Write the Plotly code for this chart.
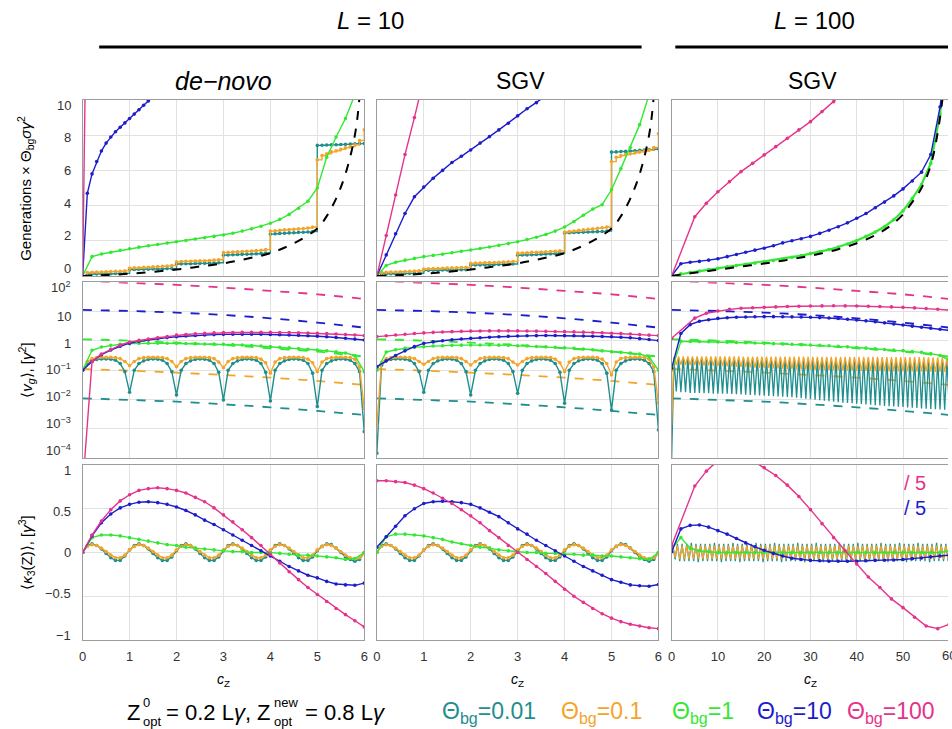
import numpy as np
import plotly.graph_objects as go

FONT = "Liberation Sans, Arial, sans-serif"
W, H = 952, 729

TEAL = "#1f8e8e"
ORANGE = "#f3a52a"
GREEN = "#33e833"
BLUE = "#1d1dcc"
PINK = "#e5338b"

# ---------------- sampling grids (c_Z) ----------------
C_Z_FINE = np.round(np.linspace(0, 6, 61), 2).tolist()      # step 0.1
C_Z = np.round(np.linspace(0, 6, 31), 2).tolist()           # step 0.2
C_Z_L100 = np.linspace(0, 60, 31).tolist()                  # step 2
C_Z_PINK_L100 = [0.0] + np.arange(5, 60.01, 2.5).tolist()
C_Z_DASH = [0, 1, 2, 3, 4, 5, 6]
C_Z_DASH_L100 = [0, 10, 20, 30, 40, 50, 60]
C_Z_BLACK = [0, 0.5, 1, 1.5, 2, 2.5, 3, 3.5, 4, 4.5, 5, 5.2, 5.4, 5.6, 5.8, 5.9, 6.0]

# ---------------- row 1: generations x Theta_bg sigma gamma^2 ----------------
R1C1_PINK = [0, 20, 35]
R1C1_BLUE = [0, 4.7, 5.8, 6.5, 7.1, 7.55, 7.9, 8.2, 8.45, 8.7, 8.95, 9.2, 9.45, 9.7, 9.95, 10.2, 10.45]
R1C1_GREEN = [0, 1.1, 1.25, 1.35, 1.46, 1.55, 1.64, 1.72, 1.79, 1.87, 1.95, 2.02, 2.1, 2.17, 2.25,
              2.33, 2.43, 2.55, 2.68, 2.83, 3.0, 3.22, 3.5, 3.85, 4.25, 5.0, 6.75, 7.9, 8.95, 10.3, 12.0]
R1C1_ORANGE = [0.0,
               0.20, 0.21, 0.22, 0.23, 0.24, 0.25, 0.26, 0.27, 0.29,
               0.44, 0.46, 0.47, 0.49, 0.50, 0.52, 0.53, 0.55, 0.57, 0.59,
               0.80, 0.82, 0.83, 0.84, 0.85, 0.86, 0.87, 0.88, 0.90, 0.92,
               1.33, 1.34, 1.36, 1.37, 1.39, 1.40, 1.42, 1.44, 1.46, 1.50,
               2.55, 2.57, 2.60, 2.62, 2.64, 2.66, 2.68, 2.70, 2.73, 2.78,
               6.60, 6.85, 6.95, 7.05, 7.12, 7.20, 7.28, 7.35, 7.45, 7.70, 8.30]
R1C1_TEAL = [0.0,
             0.10, 0.11, 0.12, 0.12, 0.13, 0.13, 0.14, 0.14, 0.15,
             0.36, 0.37, 0.38, 0.38, 0.39, 0.40, 0.40, 0.41, 0.42, 0.42,
             0.68, 0.69, 0.70, 0.70, 0.71, 0.72, 0.72, 0.73, 0.74, 0.75,
             1.18, 1.20, 1.21, 1.22, 1.23, 1.24, 1.25, 1.26, 1.28, 1.30,
             2.38, 2.40, 2.42, 2.43, 2.45, 2.46, 2.48, 2.49, 2.50, 2.52,
             7.42, 7.43, 7.44, 7.45, 7.46, 7.47, 7.48, 7.50, 7.51, 7.52, 7.53]
R1_BLACK = [0, 0.05, 0.13, 0.24, 0.37, 0.54, 0.72, 0.98, 1.3, 1.86, 2.7, 3.4, 4.4, 5.8, 8.0, 10.2, 14.0]

R1C2_PINK = [0, 2.3, 4.6, 6.9, 9.0, 11.2]
R1C2_BLUE = [0, 1.2, 2.4, 3.55, 4.5, 5.05, 5.55, 6.0, 6.45, 6.8, 7.16, 7.55, 7.92, 8.3, 8.68, 9.1,
             9.5, 9.85, 10.2, 10.6]
R1C2_GREEN = [0, 0.6, 0.78, 0.9, 1.0, 1.1, 1.17, 1.24, 1.32, 1.4, 1.48, 1.56, 1.65, 1.74, 1.84, 1.95,
              2.07, 2.2, 2.36, 2.55, 2.78, 3.1, 3.45, 3.8, 4.05, 4.9, 6.1, 7.3, 8.6, 10.3, 12.0]
R1C2_ORANGE = [0.0,
               0.20, 0.21, 0.22, 0.23, 0.24, 0.25, 0.26, 0.28, 0.30,
               0.40, 0.41, 0.42, 0.43, 0.44, 0.45, 0.46, 0.47, 0.48, 0.49,
               0.72, 0.73, 0.74, 0.75, 0.76, 0.77, 0.78, 0.79, 0.80, 0.82,
               1.30, 1.31, 1.32, 1.34, 1.35, 1.36, 1.38, 1.39, 1.40, 1.43,
               2.50, 2.53, 2.56, 2.59, 2.62, 2.65, 2.68, 2.71, 2.74, 2.78,
               6.50, 6.75, 6.85, 6.90, 6.95, 7.00, 7.05, 7.10, 7.15, 7.30, 8.10]
R1C2_TEAL = [0.0,
             0.12, 0.12, 0.13, 0.13, 0.14, 0.14, 0.15, 0.15, 0.16,
             0.32, 0.32, 0.33, 0.33, 0.34, 0.34, 0.35, 0.35, 0.36, 0.36,
             0.62, 0.63, 0.63, 0.64, 0.65, 0.65, 0.66, 0.67, 0.67, 0.68,
             1.18, 1.19, 1.20, 1.21, 1.22, 1.24, 1.25, 1.26, 1.28, 1.30,
             2.45, 2.46, 2.47, 2.48, 2.49, 2.50, 2.51, 2.52, 2.53, 2.55,
             7.04, 7.05, 7.07, 7.08, 7.10, 7.12, 7.14, 7.16, 7.18, 7.20, 7.22]

R1C3_PINK = [0, 3.37, 4.13, 4.79, 5.36, 5.93, 6.4, 6.88, 7.35, 7.82, 8.3, 8.77, 9.34, 9.9, 10.5]
R1C3_BLUE = [0, 0.7, 0.78, 0.83, 0.9, 0.98, 1.1, 1.22, 1.35, 1.47, 1.58, 1.72, 1.88, 2.0, 2.12, 2.25,
             2.42, 2.6, 2.8, 3.02, 3.28, 3.55, 3.88, 4.2, 4.55, 4.95, 5.4, 5.9, 6.9, 9.6, 14.0]
R1C3_GREEN = [0, 0.12, 0.2, 0.28, 0.36, 0.44, 0.52, 0.59, 0.66, 0.73, 0.8, 0.88, 0.97, 1.06, 1.16, 1.27,
              1.38, 1.5, 1.65, 1.82, 2.02, 2.25, 2.5, 2.8, 3.2, 3.7, 4.4, 5.2, 6.4, 9.2, 14.0]
R1C3_BLACK = [0, 0.08, 0.15, 0.22, 0.29, 0.36, 0.43, 0.5, 0.57, 0.64, 0.71, 0.79, 0.87, 0.96, 1.05, 1.15,
              1.26, 1.38, 1.52, 1.68, 1.86, 2.07, 2.32, 2.62, 3.0, 3.5, 4.2, 5.0, 6.3, 9.0, 14.0]

# ---------------- row 2: <v_g> (log) ----------------
DASH_TEAL = [0.0111, 0.00975, 0.00855, 0.00693, 0.00548, 0.00411, 0.0030]
DASH_ORANGE = [0.111, 0.0975, 0.083, 0.0693, 0.0562, 0.0433, 0.0316]
DASH_GREEN = [1.14, 1.03, 0.877, 0.731, 0.562, 0.433, 0.292]
DASH_BLUE = [11.4, 10.5, 9.25, 7.69, 5.93, 4.22, 2.85]
DASH_PINK = [114, 96, 82, 66, 51, 39, 27]

R2C1_PINK = [1e-5, 0.2, 0.36, 0.52, 0.72, 0.92, 1.05, 1.17, 1.29, 1.41, 1.58, 1.67, 1.75, 1.82, 1.88,
             1.92, 1.95, 1.97, 1.98, 1.98, 1.97, 1.95, 1.93, 1.9, 1.86, 1.82, 1.78, 1.73, 1.67, 1.6, 1.52]
R2C1_BLUE = [0.1, 0.2, 0.34, 0.49, 0.66, 0.84, 0.97, 1.09, 1.2, 1.3, 1.39, 1.47, 1.54, 1.6, 1.65, 1.68,
             1.7, 1.7, 1.7, 1.69, 1.67, 1.64, 1.6, 1.56, 1.51, 1.45, 1.39, 1.32, 1.24, 1.16, 1.08]
R2C1_GREEN = [0.1, 0.48, 0.62, 0.71, 0.77, 0.81, 0.83, 0.84, 0.84, 0.84, 0.83, 0.82, 0.81, 0.79, 0.78,
              0.77, 0.75, 0.73, 0.7, 0.67, 0.64, 0.61, 0.58, 0.55, 0.52, 0.49, 0.46, 0.43, 0.39, 0.32, 0.09]
R2C1_ORANGE = [0.1,
               0.20, 0.25, 0.27, 0.277, 0.28, 0.277, 0.27, 0.25, 0.20,
               0.144, 0.20, 0.25, 0.27, 0.277, 0.28, 0.277, 0.27, 0.25, 0.20,
               0.133, 0.20, 0.25, 0.27, 0.277, 0.28, 0.277, 0.27, 0.25, 0.19,
               0.123, 0.20, 0.25, 0.27, 0.277, 0.28, 0.277, 0.27, 0.24, 0.18,
               0.079, 0.19, 0.25, 0.27, 0.277, 0.28, 0.277, 0.27, 0.24, 0.18,
               0.09, 0.19, 0.25, 0.27, 0.277, 0.28, 0.277, 0.27, 0.24, 0.13, 0.0051]
R2C1_TEAL = [0.1,
             0.17, 0.21, 0.235, 0.243, 0.243, 0.24, 0.22, 0.17, 0.09,
             0.0178, 0.10, 0.17, 0.21, 0.235, 0.243, 0.24, 0.22, 0.17, 0.09,
             0.0144, 0.10, 0.17, 0.21, 0.235, 0.243, 0.24, 0.22, 0.17, 0.085,
             0.0097, 0.10, 0.17, 0.21, 0.235, 0.243, 0.24, 0.22, 0.17, 0.085,
             0.009, 0.10, 0.17, 0.21, 0.235, 0.243, 0.24, 0.22, 0.17, 0.08,
             0.0058, 0.10, 0.17, 0.21, 0.235, 0.243, 0.24, 0.22, 0.17, 0.09, 0.00081]

R2C2_PINK = [1.41, 1.5, 1.6, 1.7, 1.8, 1.88, 1.96, 2.02, 2.08, 2.13, 2.17, 2.19, 2.2, 2.21, 2.21, 2.2,
             2.18, 2.16, 2.13, 2.11, 2.08, 2.04, 2.0, 1.95, 1.9, 1.84, 1.78, 1.72, 1.65, 1.58, 1.52]
R2C2_BLUE = [0.133, 0.21, 0.32, 0.46, 0.64, 0.83, 0.93, 1.02, 1.1, 1.17, 1.23, 1.29, 1.34, 1.39, 1.44,
             1.48, 1.5, 1.52, 1.53, 1.53, 1.52, 1.5, 1.48, 1.45, 1.42, 1.39, 1.34, 1.28, 1.2, 1.12, 1.03]
R2C2_GREEN = [0.1, 0.42, 0.5, 0.56, 0.61, 0.64, 0.67, 0.69, 0.71, 0.72, 0.73, 0.73, 0.73, 0.72, 0.71,
              0.69, 0.67, 0.65, 0.63, 0.61, 0.59, 0.56, 0.53, 0.5, 0.46, 0.43, 0.41, 0.39, 0.36, 0.29, 0.1]
R2C2_ORANGE = [0.00137,
               0.18, 0.25, 0.27, 0.277, 0.28, 0.277, 0.27, 0.25, 0.20,
               0.16, 0.20, 0.25, 0.27, 0.277, 0.28, 0.277, 0.27, 0.25, 0.20,
               0.152, 0.20, 0.25, 0.27, 0.277, 0.28, 0.277, 0.27, 0.25, 0.19,
               0.152, 0.20, 0.25, 0.27, 0.277, 0.28, 0.277, 0.27, 0.24, 0.18,
               0.09, 0.19, 0.25, 0.27, 0.277, 0.28, 0.277, 0.27, 0.24, 0.17,
               0.069, 0.19, 0.25, 0.27, 0.277, 0.28, 0.277, 0.27, 0.24, 0.13, 0.0075]
R2C2_TEAL = [0.00015,
             0.15, 0.21, 0.235, 0.243, 0.243, 0.24, 0.22, 0.17, 0.09,
             0.0178, 0.10, 0.17, 0.21, 0.235, 0.243, 0.24, 0.22, 0.17, 0.09,
             0.0144, 0.10, 0.17, 0.21, 0.235, 0.243, 0.24, 0.22, 0.17, 0.09,
             0.0164, 0.10, 0.17, 0.21, 0.235, 0.243, 0.24, 0.22, 0.17, 0.085,
             0.0075, 0.10, 0.17, 0.21, 0.235, 0.243, 0.24, 0.22, 0.17, 0.08,
             0.0044, 0.10, 0.17, 0.21, 0.235, 0.243, 0.24, 0.22, 0.17, 0.09, 0.00092]

R2C3_PINK = [1.23, 6.0, 8.8, 10.5, 11.9, 13.0, 13.6, 14.0, 14.5, 14.9, 15.3, 15.6, 15.7, 15.8, 15.7,
             15.6, 15.3, 15.0, 14.5, 14.0, 13.4, 12.7, 12.0, 11.3]
R2C3_BLUE = [0.118, 1.8, 3.6, 4.7, 5.3, 5.9, 6.2, 6.4, 6.6, 6.7, 6.75, 6.75, 6.7, 6.65, 6.55, 6.4,
             6.25, 6.05, 5.8, 5.5, 5.2, 4.85, 4.5, 4.15, 3.8, 3.5, 3.2, 2.95, 2.7, 2.5, 2.3]
R2C3_GREEN = [0.1, 0.97, 0.96, 0.95, 0.94, 0.93, 0.91, 0.89, 0.87, 0.85, 0.83, 0.81, 0.79, 0.77, 0.75,
              0.73, 0.71, 0.69, 0.66, 0.63, 0.6, 0.57, 0.54, 0.51, 0.49, 0.47, 0.44, 0.41, 0.37, 0.32, 0.22]
# L = 100: one maximum (c_Z = k + 0.5) and one minimum (c_Z = k + 1) per locus
R2C3_TEAL_START = 1e-4
R2C3_TEAL_PEAK = [0.25, 0.26, 0.26, 0.26, 0.26, 0.26, 0.26, 0.26, 0.26, 0.26,
                  0.26, 0.26, 0.26, 0.26, 0.26, 0.26, 0.255, 0.255, 0.255, 0.255,
                  0.255, 0.255, 0.255, 0.255, 0.25, 0.25, 0.25, 0.25, 0.25, 0.25,
                  0.25, 0.25, 0.25, 0.25, 0.25, 0.25, 0.245, 0.245, 0.245, 0.245,
                  0.245, 0.245, 0.245, 0.245, 0.245, 0.24, 0.24, 0.24, 0.24, 0.24,
                  0.24, 0.24, 0.24, 0.235, 0.235, 0.235, 0.235, 0.235, 0.235, 0.235]
R2C3_TEAL_DIP = [0.019, 0.018, 0.018, 0.017, 0.017, 0.017, 0.0165, 0.0165, 0.016, 0.016,
                 0.016, 0.0158, 0.0155, 0.0152, 0.015, 0.0148, 0.0145, 0.0142, 0.014, 0.0137,
                 0.0134, 0.0131, 0.0128, 0.0126, 0.0123, 0.012, 0.0116, 0.0112, 0.0108, 0.0104,
                 0.01, 0.0096, 0.0092, 0.0088, 0.0085, 0.0082, 0.0079, 0.0077, 0.0075, 0.0073,
                 0.0071, 0.0069, 0.0067, 0.0065, 0.0063, 0.0061, 0.006, 0.0058, 0.0057, 0.0056,
                 0.0054, 0.0053, 0.0052, 0.005, 0.0049, 0.0048, 0.0047, 0.0046, 0.0045, 0.0044]
R2C3_ORANGE_START = 0.00137
R2C3_ORANGE_PEAK = [0.29, 0.3, 0.3, 0.3, 0.3, 0.3, 0.3, 0.3, 0.3, 0.3,
                    0.3, 0.3, 0.3, 0.3, 0.3, 0.295, 0.295, 0.295, 0.295, 0.295,
                    0.295, 0.295, 0.295, 0.295, 0.295, 0.29, 0.29, 0.29, 0.29, 0.29,
                    0.29, 0.29, 0.29, 0.29, 0.29, 0.285, 0.285, 0.285, 0.285, 0.285,
                    0.285, 0.285, 0.285, 0.285, 0.285, 0.28, 0.28, 0.28, 0.28, 0.28,
                    0.28, 0.28, 0.28, 0.28, 0.28, 0.275, 0.275, 0.275, 0.275, 0.275]
R2C3_ORANGE_DIP = [0.155, 0.155, 0.152, 0.152, 0.15, 0.148, 0.146, 0.144, 0.142, 0.14,
                   0.138, 0.136, 0.134, 0.132, 0.13, 0.128, 0.126, 0.124, 0.122, 0.12,
                   0.118, 0.116, 0.114, 0.112, 0.11, 0.109, 0.108, 0.107, 0.106, 0.105,
                   0.104, 0.103, 0.102, 0.101, 0.1, 0.099, 0.098, 0.097, 0.096, 0.096,
                   0.095, 0.095, 0.094, 0.094, 0.093, 0.093, 0.092, 0.092, 0.092, 0.091,
                   0.091, 0.091, 0.09, 0.09, 0.09, 0.09, 0.089, 0.089, 0.089, 0.088]

# ---------------- row 3: <kappa_3(Z)> ----------------
R3C1_PINK = [0, 0.2, 0.36, 0.49, 0.59, 0.66, 0.71, 0.73, 0.74, 0.73, 0.71, 0.68, 0.63, 0.58, 0.51,
             0.43, 0.35, 0.26, 0.17, 0.08, -0.02, -0.12, -0.22, -0.31, -0.4, -0.48, -0.56, -0.64,
             -0.71, -0.78, -0.85]
R3C1_BLUE = [0, 0.19, 0.34, 0.44, 0.51, 0.55, 0.575, 0.58, 0.57, 0.55, 0.52, 0.48, 0.43, 0.37, 0.32,
             0.26, 0.2, 0.14, 0.08, 0.02, -0.04, -0.1, -0.16, -0.21, -0.26, -0.29, -0.33, -0.36,
             -0.37, -0.375, -0.35]
R3C1_GREEN = [0, 0.17, 0.2, 0.2, 0.19, 0.17, 0.15, 0.13, 0.11, 0.09, 0.08, 0.06, 0.05, 0.04, 0.03,
              0.02, 0.01, 0.01, 0.0, 0.0, 0.0, -0.01, -0.02, -0.03, -0.03, -0.04, -0.05, -0.06,
              -0.08, -0.07, 0.0]
R3_TEAL = [0.0,
           0.08, 0.10, 0.08, 0.04, -0.01, -0.06, -0.09, -0.09, -0.04,
           0.03, 0.08, 0.10, 0.08, 0.04, -0.01, -0.06, -0.09, -0.09, -0.05,
           0.02, 0.08, 0.10, 0.08, 0.04, -0.01, -0.06, -0.09, -0.09, -0.05,
           0.02, 0.08, 0.10, 0.08, 0.04, -0.01, -0.06, -0.09, -0.09, -0.05,
           0.02, 0.08, 0.10, 0.08, 0.04, -0.01, -0.06, -0.09, -0.09, -0.05,
           0.02, 0.07, 0.10, 0.09, 0.05, 0.00, -0.05, -0.08, -0.10, -0.08, 0.0]
R3_ORANGE = [0.0,
             0.07, 0.09, 0.08, 0.05, 0.01, -0.03, -0.06, -0.06, -0.03,
             0.03, 0.07, 0.09, 0.08, 0.05, 0.01, -0.03, -0.06, -0.06, -0.03,
             0.03, 0.07, 0.09, 0.08, 0.05, 0.01, -0.03, -0.06, -0.06, -0.03,
             0.03, 0.07, 0.09, 0.08, 0.05, 0.01, -0.03, -0.06, -0.06, -0.03,
             0.03, 0.07, 0.09, 0.08, 0.05, 0.01, -0.03, -0.06, -0.06, -0.03,
             0.03, 0.07, 0.09, 0.08, 0.05, 0.01, -0.03, -0.06, -0.07, -0.06, -0.01]

R3C2_PINK = [0.82, 0.82, 0.81, 0.8, 0.77, 0.73, 0.68, 0.62, 0.56, 0.49, 0.42, 0.34, 0.25, 0.17, 0.08,
             0.0, -0.08, -0.16, -0.24, -0.33, -0.42, -0.5, -0.57, -0.64, -0.7, -0.75, -0.79, -0.82,
             -0.84, -0.86, -0.87]
R3C2_BLUE = [0.06, 0.18, 0.3, 0.42, 0.5, 0.56, 0.58, 0.585, 0.58, 0.57, 0.55, 0.51, 0.46, 0.41, 0.34,
             0.27, 0.21, 0.14, 0.08, 0.02, -0.04, -0.1, -0.16, -0.21, -0.26, -0.31, -0.34, -0.37,
             -0.38, -0.385, -0.365]
R3C2_GREEN = [0, 0.18, 0.21, 0.21, 0.2, 0.19, 0.17, 0.15, 0.12, 0.1, 0.08, 0.06, 0.05, 0.03, 0.02,
              0.01, 0.0, 0.0, -0.01, -0.01, -0.02, -0.02, -0.03, -0.03, -0.04, -0.04, -0.05, -0.06,
              -0.07, -0.08, 0.0]

R3C3_PINK = [0.08, 0.76, 0.93, 1.05, 1.12, 1.13, 1.05, 0.97, 0.88, 0.77, 0.64, 0.49, 0.33, 0.17, 0.02,
             -0.13, -0.28, -0.4, -0.53, -0.63, -0.74, -0.84, -0.87, -0.82]
R3C3_BLUE = [0.01, 0.27, 0.31, 0.315, 0.29, 0.25, 0.21, 0.16, 0.11, 0.065, 0.025, -0.01, -0.04, -0.065,
             -0.08, -0.09, -0.095, -0.1, -0.1, -0.1, -0.1, -0.095, -0.09, -0.088, -0.085, -0.08,
             -0.07, -0.062, -0.05, -0.04, -0.03]
R3C3_GREEN = [0.04, 0.17, 0.05, 0.02, 0.01, 0.0, 0.0, 0.0, 0.0, 0.0, 0.0, 0.0, 0.0, 0.0, 0.0, 0.0,
              0.0, 0.0, 0.0, 0.0, 0.0, 0.0, 0.0, 0.0, 0.0, 0.0, 0.0, 0.0, 0.0, 0.0, 0.02]
# L = 100: one maximum (c_Z = k + 0.25) and one minimum (c_Z = k + 0.75) per locus
R3C3_TEAL_PEAK = [0.09, 0.1, 0.1, 0.1, 0.11, 0.1, 0.1, 0.1, 0.1, 0.11,
                  0.1, 0.1, 0.1, 0.11, 0.1, 0.1, 0.1, 0.1, 0.11, 0.1,
                  0.1, 0.1, 0.11, 0.1, 0.1, 0.1, 0.1, 0.11, 0.1, 0.1,
                  0.1, 0.11, 0.1, 0.1, 0.1, 0.1, 0.11, 0.1, 0.1, 0.1,
                  0.11, 0.1, 0.1, 0.1, 0.1, 0.11, 0.1, 0.1, 0.1, 0.11,
                  0.1, 0.1, 0.1, 0.11, 0.1, 0.1, 0.1, 0.11, 0.1, 0.1]
R3C3_TEAL_TROUGH = [-0.08, -0.1, -0.1, -0.1, -0.1, -0.11, -0.1, -0.1, -0.1, -0.1,
                    -0.11, -0.1, -0.1, -0.1, -0.11, -0.1, -0.1, -0.1, -0.1, -0.11,
                    -0.1, -0.1, -0.1, -0.11, -0.1, -0.1, -0.1, -0.1, -0.11, -0.1,
                    -0.1, -0.1, -0.11, -0.1, -0.1, -0.1, -0.1, -0.11, -0.1, -0.1,
                    -0.1, -0.11, -0.1, -0.1, -0.1, -0.1, -0.11, -0.1, -0.1, -0.1,
                    -0.11, -0.1, -0.1, -0.1, -0.1, -0.11, -0.1, -0.1, -0.1, -0.1]
R3C3_ORANGE_PEAK = [0.07, 0.08, 0.08, 0.08, 0.08, 0.08, 0.08, 0.08, 0.08, 0.08,
                    0.08, 0.08, 0.08, 0.08, 0.08, 0.08, 0.08, 0.08, 0.08, 0.08,
                    0.08, 0.08, 0.08, 0.08, 0.08, 0.08, 0.08, 0.08, 0.08, 0.08,
                    0.08, 0.08, 0.08, 0.08, 0.08, 0.08, 0.08, 0.08, 0.08, 0.08,
                    0.08, 0.08, 0.08, 0.08, 0.08, 0.08, 0.08, 0.08, 0.08, 0.08,
                    0.08, 0.08, 0.08, 0.08, 0.08, 0.08, 0.08, 0.08, 0.08, 0.08]
R3C3_ORANGE_TROUGH = [-0.06, -0.075, -0.075, -0.075, -0.075, -0.075, -0.075, -0.075, -0.075, -0.075,
                      -0.075, -0.075, -0.075, -0.075, -0.075, -0.075, -0.075, -0.075, -0.075, -0.075,
                      -0.075, -0.075, -0.075, -0.075, -0.075, -0.075, -0.075, -0.075, -0.075, -0.075,
                      -0.075, -0.075, -0.075, -0.075, -0.075, -0.075, -0.075, -0.075, -0.075, -0.075,
                      -0.075, -0.075, -0.075, -0.075, -0.075, -0.075, -0.075, -0.075, -0.075, -0.075,
                      -0.075, -0.075, -0.075, -0.075, -0.075, -0.075, -0.075, -0.075, -0.075, -0.075]

# tick labels of the left column
R1_TICKS = ["10", "8", "6", "4", "2", "0"]
R2_TICKS = ["10<sup>2</sup>", "10", "1", "10<sup>−1</sup>", "10<sup>−2</sup>", "10<sup>−3</sup>",
            "10<sup>−4</sup>"]
R3_TICKS = ["1", "0.5", "0", "−0.5", "−1"]

LEGEND = [("0.01", TEAL), ("0.1", ORANGE), ("1", GREEN), ("10", BLUE), ("100", PINK)]


def interleave(start, first, second, offset_a, offset_b):
    xs, ys = [0.0], [start]
    for k, (a, b) in enumerate(zip(first, second)):
        xs += [k + offset_a, k + offset_b]
        ys += [a, b]
    return xs, ys


# ---------------- figure geometry ----------------
def px_x(p):
    return p / W


def px_y(p):
    return 1 - p / H


X_DOM = {1: [px_x(79.3), px_x(363.3)], 2: [px_x(376.0), px_x(660.0)], 3: [px_x(673.3), 1.0]}
Y_DOM = {1: [px_y(276.0), px_y(100.0)], 2: [px_y(458.3), px_y(282.3)], 3: [px_y(640.0), px_y(465.0)]}

fig = go.Figure()


def ax_id(r, c):
    i = (r - 1) * 3 + c
    return ("x" if i == 1 else f"x{i}"), ("y" if i == 1 else f"y{i}")


def add(r, c, x, y, color, dash=None, markers=True, shape="linear", width=1.4, msize=3.6):
    xa, ya = ax_id(r, c)
    fig.add_trace(go.Scatter(
        x=x[:len(y)], y=y, xaxis=xa, yaxis=ya,
        mode="lines+markers" if markers else "lines",
        line=dict(color=color, width=width, dash=dash, shape=shape),
        marker=dict(color=color, size=msize),
        hoverinfo="skip", showlegend=False))


# row 1
for c, (teal, orange, green, blue, pink) in {
        1: (R1C1_TEAL, R1C1_ORANGE, R1C1_GREEN, R1C1_BLUE, R1C1_PINK),
        2: (R1C2_TEAL, R1C2_ORANGE, R1C2_GREEN, R1C2_BLUE, R1C2_PINK)}.items():
    add(1, c, C_Z_FINE, teal, TEAL, shape="hv")
    add(1, c, C_Z_FINE, orange, ORANGE, shape="hv")
    add(1, c, C_Z, green, GREEN)
    add(1, c, C_Z_FINE if c == 1 else C_Z, blue, BLUE)
    add(1, c, C_Z_FINE if c == 1 else C_Z, pink, PINK)
    add(1, c, C_Z_BLACK, R1_BLACK, "black", dash="dash", markers=False, shape="spline", width=2)
add(1, 3, C_Z_L100, R1C3_GREEN, GREEN, width=2.2)
add(1, 3, C_Z_L100, R1C3_BLUE, BLUE)
add(1, 3, C_Z_PINK_L100, R1C3_PINK, PINK)
add(1, 3, C_Z_L100, R1C3_BLACK, "black", dash="dash", markers=False, shape="spline", width=2)

# row 2
for c in (1, 2, 3):
    dx = C_Z_DASH if c < 3 else C_Z_DASH_L100
    for vals, col in ((DASH_TEAL, TEAL), (DASH_ORANGE, ORANGE), (DASH_GREEN, GREEN),
                      (DASH_BLUE, BLUE), (DASH_PINK, PINK)):
        add(2, c, dx, vals, col, dash="dash", markers=False, shape="spline", width=1.8)
for c, (teal, orange, green, blue, pink) in {
        1: (R2C1_TEAL, R2C1_ORANGE, R2C1_GREEN, R2C1_BLUE, R2C1_PINK),
        2: (R2C2_TEAL, R2C2_ORANGE, R2C2_GREEN, R2C2_BLUE, R2C2_PINK)}.items():
    add(2, c, C_Z_FINE, teal, TEAL)
    add(2, c, C_Z_FINE, orange, ORANGE)
    add(2, c, C_Z, green, GREEN)
    add(2, c, C_Z, blue, BLUE)
    add(2, c, C_Z, pink, PINK)
tx, ty = interleave(R2C3_TEAL_START, R2C3_TEAL_PEAK, R2C3_TEAL_DIP, 0.5, 1.0)
add(2, 3, tx, ty, TEAL, markers=False, width=1.3)
ox, oy = interleave(R2C3_ORANGE_START, R2C3_ORANGE_PEAK, R2C3_ORANGE_DIP, 0.5, 1.0)
add(2, 3, ox, oy, ORANGE, markers=False, width=1.3)
add(2, 3, C_Z_L100, R2C3_GREEN, GREEN)
add(2, 3, C_Z_L100, R2C3_BLUE, BLUE)
add(2, 3, C_Z_PINK_L100, R2C3_PINK, PINK)

# row 3
for c, (green, blue, pink) in {1: (R3C1_GREEN, R3C1_BLUE, R3C1_PINK),
                               2: (R3C2_GREEN, R3C2_BLUE, R3C2_PINK)}.items():
    add(3, c, C_Z_FINE, R3_TEAL, TEAL)
    add(3, c, C_Z_FINE, R3_ORANGE, ORANGE)
    add(3, c, C_Z, green, GREEN)
    add(3, c, C_Z, blue, BLUE)
    add(3, c, C_Z, pink, PINK)
tx, ty = interleave(0.0, R3C3_TEAL_PEAK, R3C3_TEAL_TROUGH, 0.25, 0.75)
add(3, 3, tx, ty, TEAL, markers=False, width=1.2)
ox, oy = interleave(0.0, R3C3_ORANGE_PEAK, R3C3_ORANGE_TROUGH, 0.25, 0.75)
add(3, 3, ox, oy, ORANGE, markers=False, width=1.2)
add(3, 3, C_Z_L100, R3C3_GREEN, GREEN)
add(3, 3, C_Z_L100, R3C3_BLUE, BLUE)
add(3, 3, C_Z_PINK_L100, R3C3_PINK, PINK)

# ---------------- axes ----------------
TICK_COLOR = "#333333"
TICKFONT = dict(family=FONT, size=13, color=TICK_COLOR)
FRAME = "#9c9c9c"
axes = {}
for r in (1, 2, 3):
    for c in (1, 2, 3):
        i = (r - 1) * 3 + c
        xname = "xaxis" if i == 1 else f"xaxis{i}"
        yname = "yaxis" if i == 1 else f"yaxis{i}"
        common = dict(showline=True, mirror=True, linecolor=FRAME, linewidth=1.3,
                      showgrid=True, gridcolor="#e2e2e2", gridwidth=1, zeroline=False,
                      ticks="", tickfont=TICKFONT, fixedrange=True)
        xa = dict(common, domain=X_DOM[c], anchor=ax_id(r, c)[1], showticklabels=(r == 3),
                  ticklabelstandoff=4)
        if c < 3:
            xa.update(range=[0, 6], tickvals=[0, 1, 2, 3, 4, 5, 6])
        else:
            xa.update(range=[0, (W - 673.3) / 280 * 60], tickvals=[0, 10, 20, 30, 40, 50])
        ya = dict(common, domain=Y_DOM[r], anchor=ax_id(r, c)[0], showticklabels=False)
        if c == 3:
            ya.update(mirror=False)   # the panel runs past the right edge of the page
        if r == 1:
            ya.update(range=[0, 10], tickvals=[0, 2, 4, 6, 8, 10])
        elif r == 2:
            ya.update(type="log", range=[-4, 2], tickvals=[1e-4, 1e-3, 1e-2, 1e-1, 1, 10, 100])
        else:
            ya.update(range=[-1, 1], tickvals=[-1, -0.5, 0, 0.5, 1])
        axes[xname] = xa
        axes[yname] = ya

# ---------------- text ----------------
ann = []


def text(t, x, y, size, color="black", xanchor="center", angle=0, yanchor="middle"):
    ann.append(dict(text=t, x=px_x(x), y=px_y(y), xref="paper", yref="paper",
                    showarrow=False, xanchor=xanchor, yanchor=yanchor, textangle=angle,
                    font=dict(family=FONT, size=size, color=color)))


# y tick labels of the left column, spread slightly inside each frame
for labels, top, bottom in ((R1_TICKS, 105, 268.5), (R2_TICKS, 289, 452), (R3_TICKS, 470, 635)):
    n = len(labels) - 1
    for k, lab in enumerate(labels):
        yy = top + (bottom - top) * k / n
        if "<sup>" in lab:
            yy -= 2
        text(lab, 70, yy, 13, color=TICK_COLOR, xanchor="right")

text("<i>L</i> = 10", 370, 21, 24)
text("<i>L</i> = 100", 817, 21, 24)
text("<i>de−novo</i>", 221, 81, 25)
text("SGV", 521, 81, 23)
text("SGV", 815, 81, 23)
text("Generations × Θ<sub>bg</sub><i>σγ</i><sup>2</sup>", 22, 188, 15, angle=-90)
text("⟨<i>v<sub>g</sub></i>⟩, [<i>γ</i><sup>2</sup>]", 22, 370, 15, angle=-90)
text("⟨<i>κ</i><sub>3</sub>(Z)⟩, [<i>γ</i><sup>3</sup>]", 22, 552, 15, angle=-90)
for cx in (221, 518, 813):
    text("<i>c</i><sub>Z</sub>", cx, 680, 14)
text("60", 953.3, 655, 13, color=TICK_COLOR)
text("/ 5", 906, 483, 20, color=PINK, xanchor="left")
text("/ 5", 906, 508, 20, color=BLUE, xanchor="left")

# footer: optimum shift
text("Z", 122, 712, 22, xanchor="left")
text("0", 138, 702, 13, xanchor="left")
text("opt", 138, 721, 13, xanchor="left")
text("= 0.2 L<i>γ</i>, Z", 161, 712, 22, xanchor="left")
text("new", 270, 702, 13, xanchor="left")
text("opt", 270, 721, 13, xanchor="left")
text("= 0.8 L<i>γ</i>", 302, 712, 22, xanchor="left")
for (lab, col), x0 in zip(LEGEND, (440, 560, 672, 757, 848)):
    text(f"Θ<sub>bg</sub>={lab}", x0, 712, 23, color=col, xanchor="left")

shapes = [
    dict(type="line", xref="paper", yref="paper", x0=px_x(96), x1=px_x(643), y0=px_y(47), y1=px_y(47),
         line=dict(color="black", width=3)),
    dict(type="line", xref="paper", yref="paper", x0=px_x(677), x1=1.0, y0=px_y(47), y1=px_y(47),
         line=dict(color="black", width=3)),
]

fig.update_layout(width=W, height=H, margin=dict(l=0, r=0, t=0, b=0),
                  paper_bgcolor="white", plot_bgcolor="white", showlegend=False,
                  annotations=ann, shapes=shapes, font=dict(family=FONT), **axes)
fig.write_html("out.html")
